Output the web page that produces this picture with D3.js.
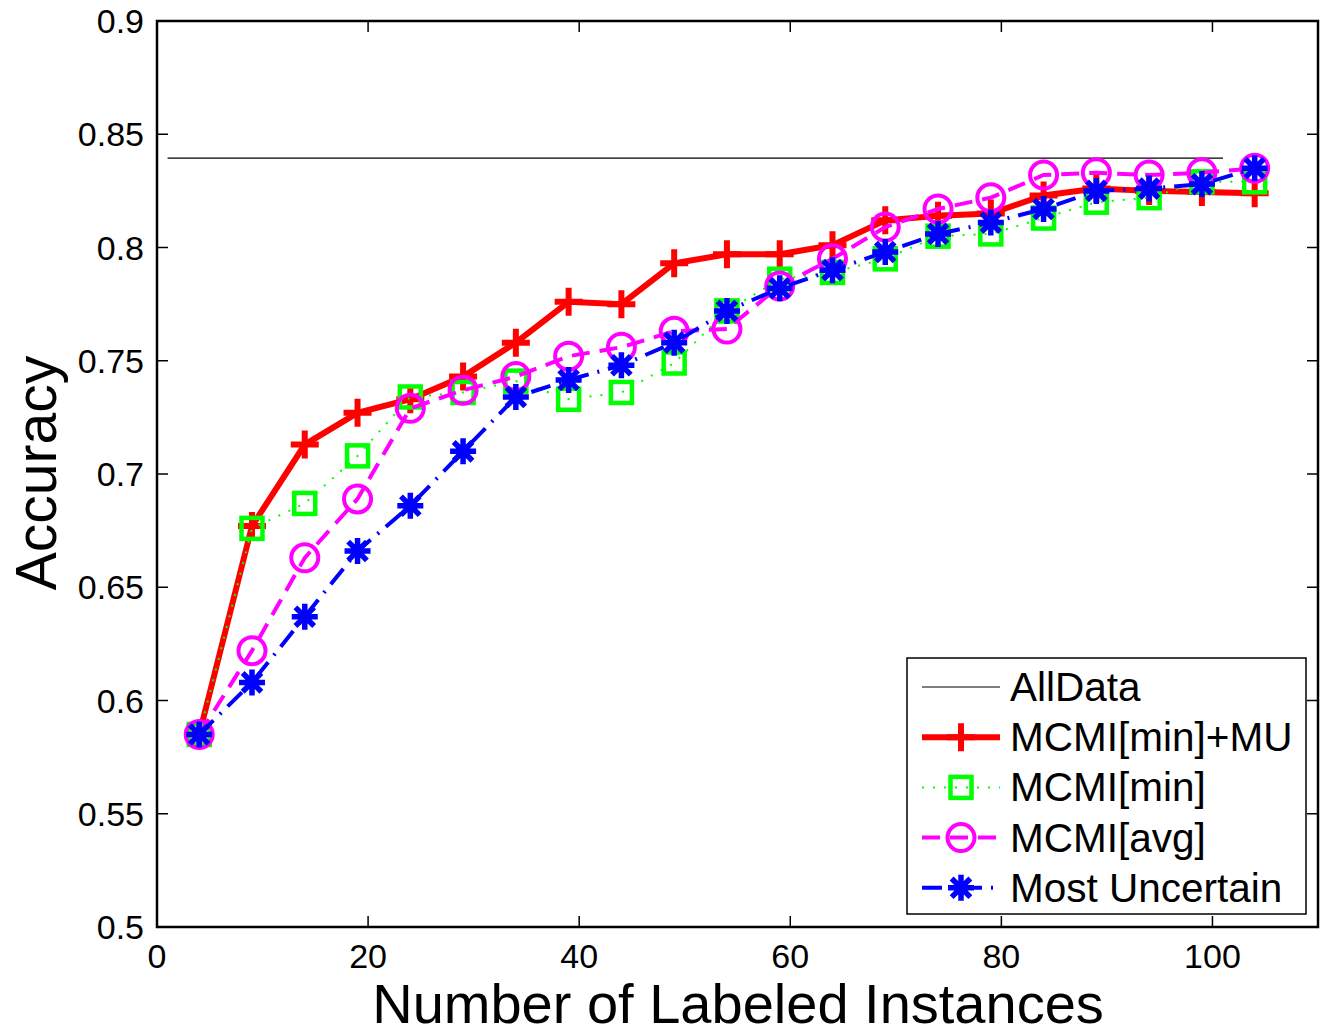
<!DOCTYPE html>
<html>
<head>
<meta charset="utf-8">
<script src="https://cdn.jsdelivr.net/npm/d3@7"></script>
<style>
  body { margin: 0; background: #fff; }
  text { font-family: "Liberation Sans", Arial, sans-serif; }
</style>
</head>
<body>
<main></main>
<script>
// data
const xs = [4, 9, 14, 19, 24, 29, 34, 39, 44, 49, 54, 59, 64, 69, 74, 79, 84, 89, 94, 99, 104];
const mcmiMinMU = [0.585, 0.677, 0.713, 0.727, 0.733, 0.743, 0.758, 0.776, 0.775, 0.793, 0.797, 0.797, 0.801, 0.812, 0.814, 0.815, 0.823, 0.826, 0.825, 0.8245, 0.824];
const mcmiMin = [0.585, 0.676, 0.687, 0.708, 0.734, 0.736, 0.741, 0.733, 0.736, 0.749, 0.772, 0.786, 0.789, 0.795, 0.805, 0.806, 0.813, 0.820, 0.822, 0.829, 0.829];
const mcmiAvg = [0.585, 0.622, 0.663, 0.689, 0.729, 0.737, 0.743, 0.752, 0.756, 0.763, 0.764, 0.783, 0.795, 0.809, 0.817, 0.822, 0.832, 0.833, 0.832, 0.833, 0.835];
const mostUncertain = [0.585, 0.608, 0.637, 0.666, 0.686, 0.710, 0.734, 0.7415, 0.748, 0.758, 0.772, 0.782, 0.790, 0.798, 0.806, 0.811, 0.817, 0.825, 0.826, 0.828, 0.835];
const allDataX = [1, 101];
const allDataY = 0.8395;
const xTicks = [0, 20, 40, 60, 80, 100];
const yTicks = [0.5, 0.55, 0.6, 0.65, 0.7, 0.75, 0.8, 0.85, 0.9];

const series = [
  {name: "MCMI[min]+MU", values: mcmiMinMU, color: "#ff0000", width: 6, dash: null, marker: "plus"},
  {name: "MCMI[min]", values: mcmiMin, color: "#00ff00", width: 2, dash: "2,9", marker: "square"},
  {name: "MCMI[avg]", values: mcmiAvg, color: "#ff00ff", width: 4, dash: "18,10", marker: "circle"},
  {name: "Most Uncertain", values: mostUncertain, color: "#0000ff", width: 4, dash: "20,9,2,9", marker: "star"}
];

var width = 1329, height = 1036;
var margin = {top: 21, right: 11, bottom: 109, left: 157};

var svg = d3.select("main")
  .append("svg")
  .attr("width", width)
  .attr("height", height);

var x = d3.scaleLinear().domain([0, 110]).range([margin.left, width - margin.right]);
var y = d3.scaleLinear().domain([0.5, 0.9]).range([height - margin.bottom, margin.top]);

var plot = svg.append("g");

// ticks (inside, mirrored on both sides)
var tickLen = 11;
xTicks.forEach(function(t){
  plot.append("line").attr("x1", x(t)).attr("x2", x(t))
    .attr("y1", y(0.5)).attr("y2", y(0.5) - tickLen).attr("stroke", "#000").attr("stroke-width", 1.5);
  plot.append("line").attr("x1", x(t)).attr("x2", x(t))
    .attr("y1", y(0.9)).attr("y2", y(0.9) + tickLen).attr("stroke", "#000").attr("stroke-width", 1.5);
  svg.append("text").attr("x", x(t)).attr("y", y(0.5) + 41)
    .attr("text-anchor", "middle").attr("font-size", "34px").text(t);
});
yTicks.forEach(function(t){
  plot.append("line").attr("x1", x(0)).attr("x2", x(0) + tickLen)
    .attr("y1", y(t)).attr("y2", y(t)).attr("stroke", "#000").attr("stroke-width", 1.5);
  plot.append("line").attr("x1", x(110)).attr("x2", x(110) - tickLen)
    .attr("y1", y(t)).attr("y2", y(t)).attr("stroke", "#000").attr("stroke-width", 1.5);
  svg.append("text").attr("x", x(0) - 13).attr("y", y(t) + 12)
    .attr("text-anchor", "end").attr("font-size", "34px").text(t);
});

// AllData reference line
plot.append("line")
  .attr("x1", x(allDataX[0])).attr("x2", x(allDataX[1]))
  .attr("y1", y(allDataY)).attr("y2", y(allDataY))
  .attr("stroke", "#000").attr("stroke-width", 1.2);

var line = d3.line().x(function(d){ return x(d[0]); }).y(function(d){ return y(d[1]); });

function drawMarker(g, type, cx, cy, color) {
  if (type === "plus") {
    g.append("path").attr("d", "M" + (cx - 14) + "," + cy + "H" + (cx + 14) + "M" + cx + "," + (cy - 14) + "V" + (cy + 14))
      .attr("stroke", color).attr("stroke-width", 6).attr("fill", "none");
  } else if (type === "square") {
    g.append("rect").attr("x", cx - 10.5).attr("y", cy - 10.5).attr("width", 21).attr("height", 21)
      .attr("stroke", color).attr("stroke-width", 4.5).attr("fill", "none");
  } else if (type === "circle") {
    g.append("circle").attr("cx", cx).attr("cy", cy).attr("r", 13.5)
      .attr("stroke", color).attr("stroke-width", 4).attr("fill", "none");
  } else if (type === "star") {
    var r = 13, p = "M" + (cx - r) + "," + cy + "H" + (cx + r) + "M" + cx + "," + (cy - r) + "V" + (cy + r);
    var d = r * 0.72;
    p += "M" + (cx - d) + "," + (cy - d) + "L" + (cx + d) + "," + (cy + d);
    p += "M" + (cx - d) + "," + (cy + d) + "L" + (cx + d) + "," + (cy - d);
    g.append("path").attr("d", p).attr("stroke", color).attr("stroke-width", 5.5).attr("fill", "none");
  }
}

series.forEach(function(s){
  var pts = xs.map(function(v, i){ return [v, s.values[i]]; });
  var g = plot.append("g");
  g.append("path").datum(pts).attr("d", line)
    .attr("fill", "none").attr("stroke", s.color).attr("stroke-width", s.width)
    .attr("stroke-dasharray", s.dash);
  pts.forEach(function(p){ drawMarker(g, s.marker, x(p[0]), y(p[1]), s.color); });
});

// frame
plot.append("rect")
  .attr("x", x(0)).attr("y", y(0.9))
  .attr("width", x(110) - x(0)).attr("height", y(0.5) - y(0.9))
  .attr("fill", "none").attr("stroke", "#000").attr("stroke-width", 2.5);

// axis titles
svg.append("text").attr("x", 738).attr("y", 1023)
  .attr("text-anchor", "middle").attr("font-size", "56px").text("Number of Labeled Instances");
svg.append("text").attr("transform", "translate(56," + (y(0.7) - 1) + ") rotate(-90)")
  .attr("text-anchor", "middle").attr("font-size", "57px").text("Accuracy");

// legend
var lg = svg.append("g").attr("id", "legend");
lg.append("rect").attr("x", 907).attr("y", 658).attr("width", 399).attr("height", 256)
  .attr("fill", "#fff").attr("stroke", "#000").attr("stroke-width", 1.5);
var legendItems = [{name: "AllData", color: "#000", width: 1.2, dash: null, marker: null}].concat(series);
legendItems.forEach(function(s, i){
  var ly = 687 + i * 50.2;
  lg.append("line").attr("x1", 922).attr("x2", 1000).attr("y1", ly).attr("y2", ly)
    .attr("stroke", s.color).attr("stroke-width", s.width).attr("stroke-dasharray", s.dash);
  if (s.marker) drawMarker(lg, s.marker, 961, ly, s.color);
  lg.append("text").attr("x", 1010).attr("y", ly + 14).attr("font-size", "40.5px").text(s.name);
});
</script>
</body>
</html>
